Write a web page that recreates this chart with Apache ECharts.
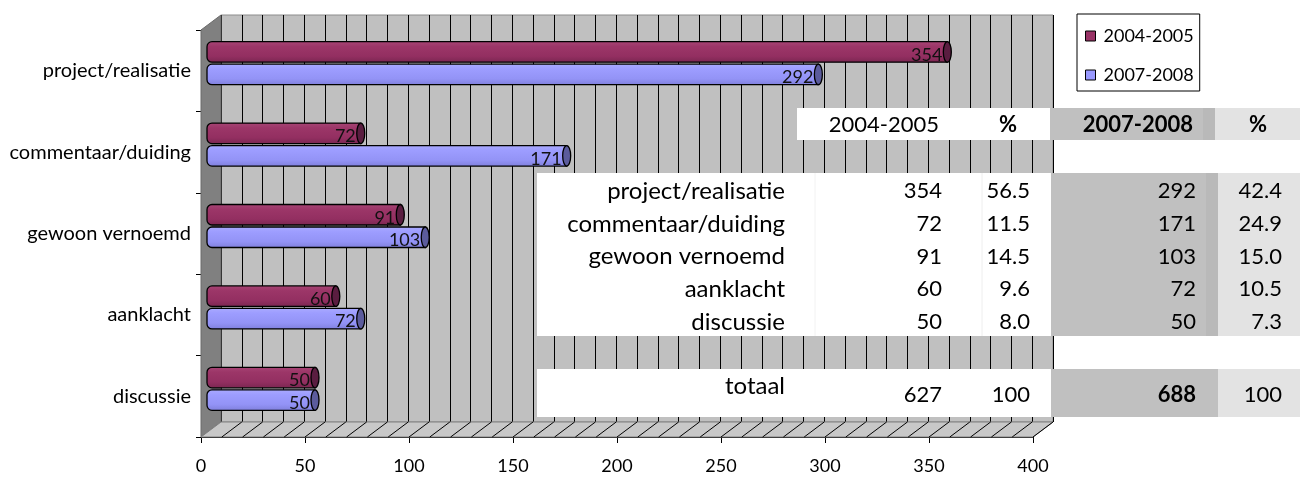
<!DOCTYPE html>
<html><head><meta charset="utf-8">
<script src="https://cdn.jsdelivr.net/npm/echarts@6/dist/echarts.min.js"></script>
<style>html,body{margin:0;padding:0;background:#fff}#c{width:1300px;height:477px}</style>
</head><body><div id="c"></div>
<script>
// ---- data ----
var categories = ['project/realisatie', 'commentaar/duiding', 'gewoon vernoemd', 'aanklacht', 'discussie'];
var seriesNames = ['2004-2005', '2007-2008'];
var values2004 = [354, 72, 91, 60, 50];
var values2008 = [292, 171, 103, 72, 50];
var pct2004 = ['56.5', '11.5', '14.5', '9.6', '8.0'];
var pct2008 = ['42.4', '24.9', '15.0', '10.5', '7.3'];
var totalLabel = 'totaal';
var total2004 = 627, total2008 = 688;
var totalPct2004 = '100', totalPct2008 = '100';
var pctHeader = '%';

// ---- layout ----
var FONT = 'Lato';
var FL = 201, FT = 30, FW = 832, FH = 407;   // front plane
var DX = 20, DY = -15;                        // depth offset

var chart = echarts.init(document.getElementById('c'), null, {renderer: 'canvas'});

var colors = ['#993366', '#9999ff'];
var grads = [
  {type: 'linear', x: 0, y: 0, x2: 0, y2: 1, colorStops: [
    {offset: 0, color: '#a84676'}, {offset: 0.25, color: '#9c3668'},
    {offset: 0.7, color: '#932f61'}, {offset: 1, color: '#7a2651'}]},
  {type: 'linear', x: 0, y: 0, x2: 0, y2: 1, colorStops: [
    {offset: 0, color: '#ababff'}, {offset: 0.25, color: '#9d9dff'},
    {offset: 0.7, color: '#9393f6'}, {offset: 1, color: '#7f7fdb'}]}
];
var capColors = ['#5a1d40', '#5b5b9c'];

function makeRender(s) {
  return function (params, api) {
    var val = api.value(0), cat = api.value(1);
    var p0 = api.coord([0, cat]);
    var p1 = api.coord([val, cat]);
    var c = p0[1];
    var h = 20.5;
    var y0 = s === 0 ? c - 21.5 : c + 1;
    return {
      type: 'group',
      children: [
        {type: 'rect', shape: {x: p0[0] - 4, y: y0, width: p1[0] - p0[0] + 4, height: h, r: [5, 0, 0, 5]},
         style: {fill: grads[s], stroke: '#000', lineWidth: 1.3}},
        {type: 'ellipse', shape: {cx: p1[0], cy: y0 + h / 2, rx: 4, ry: h / 2},
         style: {fill: capColors[s], stroke: '#000', lineWidth: 1.3}},
        {type: 'text', x: p1[0] - 5, y: y0 + h / 2 + 3,
         style: {text: String(val), align: 'right', verticalAlign: 'middle',
                 font: '18px ' + FONT, fill: '#111'}}
      ]
    };
  };
}

var option = {
  animation: false,
  backgroundColor: '#fff',
  grid: [
    {left: FL, top: FT, width: FW, height: FH, containLabel: false},
    {left: FL + DX, top: FT + DY, width: FW, height: FH, show: true,
     backgroundColor: '#c0c0c0', borderColor: '#8c8c8c', borderWidth: 1},
    {left: FL + DX / 2, top: FT + DY / 2, width: FW, height: FH}
  ],
  xAxis: [
    {gridIndex: 0, type: 'value', min: 0, max: 400, interval: 50,
     axisLine: {show: true, lineStyle: {color: '#000', width: 1}},
     axisTick: {show: true, length: 6, lineStyle: {color: '#000'}},
     splitLine: {show: false},
     axisLabel: {fontFamily: FONT, fontSize: 18, color: '#000', margin: 20}},
    {gridIndex: 1, type: 'value', min: 0, max: 400, interval: 10,
     axisLine: {show: false}, axisTick: {show: false}, axisLabel: {show: false},
     splitLine: {show: true, lineStyle: {color: '#000', width: 1}}},
    {gridIndex: 2, type: 'value', min: 0, max: 400, show: false}
  ],
  yAxis: [
    {gridIndex: 0, type: 'category', inverse: true, data: categories,
     axisLine: {show: true, lineStyle: {color: '#000', width: 1}},
     axisTick: {show: true, length: 5, lineStyle: {color: '#000'}},
     axisLabel: {fontFamily: FONT, fontSize: 20, color: '#000', margin: 10, padding: [5, 0, 0, 0]}},
    {gridIndex: 1, type: 'category', inverse: true, data: categories, show: false},
    {gridIndex: 2, type: 'category', inverse: true, data: categories, show: false}
  ],
  legend: {
    orient: 'vertical', left: 1077, top: 14,
    backgroundColor: '#fff', borderColor: '#000', borderWidth: 1,
    padding: [13, 6, 7, 8], itemGap: 21, itemWidth: 10, itemHeight: 10,
    icon: 'rect', itemStyle: {borderColor: '#000', borderWidth: 1},
    textStyle: {fontFamily: FONT, fontSize: 18, color: '#000', padding: [0, 0, 0, 3]},
    data: seriesNames
  },
  series: [
    {name: seriesNames[0], type: 'custom', xAxisIndex: 2, yAxisIndex: 2,
     itemStyle: {color: colors[0]}, renderItem: makeRender(0),
     encode: {x: 0, y: 1}, data: values2004.map(function (v, i) { return [v, i]; })},
    {name: seriesNames[1], type: 'custom', xAxisIndex: 2, yAxisIndex: 2,
     itemStyle: {color: colors[1]}, renderItem: makeRender(1),
     encode: {x: 0, y: 1}, data: values2008.map(function (v, i) { return [v, i]; })}
  ]
};
chart.setOption(option);

// ---- 3D walls, floor and the embedded table ----
var g = [];
var FB = FT + FH;
g.push({type: 'polygon', z: 1, shape: {points: [[FL, FT], [FL + DX, FT + DY], [FL + DX, FB + DY], [FL, FB]]},
        style: {fill: '#808080', stroke: '#6a6a6a', lineWidth: 1}});
g.push({type: 'polygon', z: 1, shape: {points: [[FL, FB], [FL + DX, FB + DY], [FL + FW + DX, FB + DY], [FL + FW, FB]]},
        style: {fill: '#c8c8c8', stroke: '#808080', lineWidth: 1}});
for (var v = 10; v <= 400; v += 10) {
  var xf = chart.convertToPixel({xAxisIndex: 0}, v);
  g.push({type: 'line', z: 1, shape: {x1: xf, y1: FB, x2: xf + DX, y2: FB + DY},
          style: {stroke: '#000', lineWidth: 1}});
}

function rect(x, y, w, h, fill) {
  return {type: 'rect', z: 20, shape: {x: x, y: y, width: w, height: h}, style: {fill: fill}};
}
function txt(x, y, s, align, bold, size) {
  return {type: 'text', z: 21, x: x, y: y,
          style: {text: String(s), align: align, verticalAlign: 'middle',
                  font: (bold ? 'bold ' : '') + (size || 22) + 'px ' + FONT, fill: '#000'}};
}
var GREY = '#c0c0c0', STRIP = '#b9b9b9', LIGHT = '#e3e3e3';
// header row
g.push(rect(797, 108, 254, 32, '#fff'));
g.push(rect(1050, 108, 153, 32, GREY));
g.push(rect(1203, 108, 12, 32, STRIP));
g.push(rect(1215, 108, 85, 32, LIGHT));
g.push(txt(939, 125, seriesNames[0], 'right', false));
g.push(txt(1008, 125, pctHeader, 'center', true));
g.push(txt(1193, 125, seriesNames[1], 'right', true));
g.push(txt(1258, 125, pctHeader, 'center', true));
// data rows
g.push(rect(537, 173, 514, 163, '#fff'));
g.push(rect(1051, 173, 155, 163, GREY));
g.push(rect(1206, 173, 12, 163, STRIP));
g.push(rect(1218, 173, 82, 163, LIGHT));
g.push({type: 'line', z: 20, shape: {x1: 982, y1: 173, x2: 982, y2: 336}, style: {stroke: '#eeeeee', lineWidth: 1}});
g.push({type: 'line', z: 20, shape: {x1: 815, y1: 173, x2: 815, y2: 336}, style: {stroke: '#f2f2f2', lineWidth: 1}});
categories.forEach(function (c, i) {
  var y = 191 + i * 32.8;
  g.push(txt(785, y, c, 'right', false, 24));
  g.push(txt(942, y, values2004[i], 'right', false));
  g.push(txt(1030, y, pct2004[i], 'right', false));
  g.push(txt(1196, y, values2008[i], 'right', false));
  g.push(txt(1282, y, pct2008[i], 'right', false));
});
// totals row
g.push(rect(537, 369, 514, 48, '#fff'));
g.push(rect(1051, 369, 167, 48, GREY));
g.push(rect(1218, 369, 82, 48, LIGHT));
g.push(txt(755, 386, totalLabel, 'center', false, 24));
g.push(txt(942, 395, total2004, 'right', false));
g.push(txt(1030, 395, totalPct2004, 'right', false));
g.push(txt(1196, 395, total2008, 'right', true));
g.push(txt(1282, 395, totalPct2008, 'right', false));

chart.setOption({graphic: {elements: g}});
</script>
</body></html>
